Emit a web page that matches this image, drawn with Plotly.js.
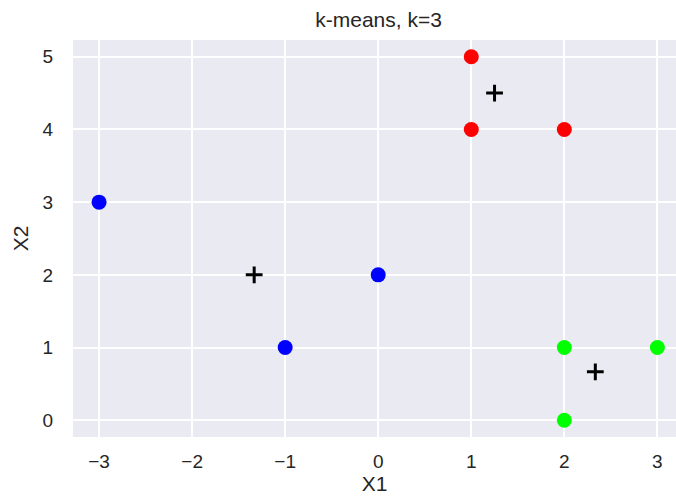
<!DOCTYPE html>
<html><head><meta charset="utf-8">
<script src="https://cdn.plot.ly/plotly-3.0.1.min.js"></script>
<style>body{margin:0}#c{width:676px;height:503px}</style>
</head><body><div id="c"></div>
<script>
const redX = [1, 1, 2];
const redY = [5, 4, 4];
const blueX = [-3, -1, 0];
const blueY = [3, 1, 2];
const greenX = [2, 3, 2];
const greenY = [1, 1, 0];
const centX = [1.25, -1.333, 2.333];
const centY = [4.5, 2, 0.667];
const xTicks = [-3, -2, -1, 0, 1, 2, 3];
const yTicks = [0, 1, 2, 3, 4, 5];

const pt = (x, y, c) => ({x, y, type:'scatter', mode:'markers', marker:{color:c, size:15}, hoverinfo:'x+y'});
const data = [
  pt(redX, redY, '#ff0000'),
  pt(blueX, blueY, '#0000ff'),
  pt(greenX, greenY, '#00ff00'),
  {x:centX, y:centY, type:'scatter', mode:'markers',
   marker:{symbol:'cross-thin', size:12, line:{color:'black', width:3}, color:'black'}}
];
const font = {family:'"Liberation Sans", Arial, sans-serif', color:'#262626'};
const layout = {
  width:676, height:503,
  margin:{l:73, r:0, t:40, b:66},
  paper_bgcolor:'white', plot_bgcolor:'#eaeaf2',
  showlegend:false,
  font: Object.assign({size:19}, font),
  title:{text:'k-means, k=3', font:Object.assign({size:21}, font), x:0.56, xanchor:'center', y:0.96, yref:'container', yanchor:'middle'},
  xaxis:{range:[-3.28, 3.2], tickvals:xTicks, ticktext:xTicks.map(v=>v<0?'\u2212'+(-v):String(v)),
    gridcolor:'white', gridwidth:1.5, zeroline:false, showline:false, ticks:'', ticklabelstandoff:11,
    tickfont:Object.assign({size:19}, font),
    title:{text:'X1', font:Object.assign({size:21}, font), standoff:4}},
  yaxis:{range:[-0.23, 5.23], tickvals:yTicks, gridcolor:'white', gridwidth:1.5, zeroline:false, showline:false, ticks:'', ticklabelstandoff:19,
    tickfont:Object.assign({size:19}, font),
    title:{text:'X2', font:Object.assign({size:21}, font), standoff:8}}
};
Plotly.newPlot('c', data, layout, {displayModeBar:false});
</script></body></html>
